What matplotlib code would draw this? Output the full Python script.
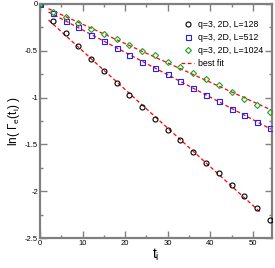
import numpy as np
import matplotlib
matplotlib.use("Agg")
import matplotlib.pyplot as plt
from matplotlib.ticker import MultipleLocator, FuncFormatter

plt.rcParams['font.family'] = ['Liberation Sans', 'DejaVu Sans']
plt.rcParams['mathtext.fontset'] = 'custom'
plt.rcParams['mathtext.rm'] = 'Liberation Sans'
plt.rcParams['mathtext.it'] = 'Liberation Sans'

# times t_i (same for all three sizes)
t = [0, 3, 6, 9, 12, 15, 18, 21, 24, 27, 30, 33, 36, 39, 42, 45, 48, 51, 54]

# ln(Gamma_e(t_i))
gamma_L128 = [0.0, -0.179, -0.314, -0.45, -0.59, -0.714, -0.845, -0.975, -1.10, -1.224,
              -1.345, -1.458, -1.58, -1.70, -1.81, -1.93, -2.05, -2.18, -2.31]
gamma_L512 = [0.0, -0.10, -0.179, -0.25, -0.33, -0.40, -0.474, -0.546, -0.618, -0.689,
              -0.753, -0.824, -0.90, -0.967, -1.04, -1.117, -1.188, -1.26, -1.33]
gamma_L1024 = [0.0, -0.089, -0.136, -0.207, -0.268, -0.321, -0.378, -0.439, -0.50, -0.55,
               -0.618, -0.671, -0.742, -0.806, -0.867, -0.939, -1.01, -1.08, -1.153]

labels = ["q=3, 2D, L=128", "q=3, 2D, L=512", "q=3, 2D, L=1024"]

# which points enter each fit, and the t-range the fitted line is drawn over
fit_idx_128 = (1, 18)
fit_idx_big = (1, 19)
fit_range_128 = (2, 52)
fit_range_big = (2, 54.5)

spine_col = "#808080"


def fitLine(tv, yv, idx, rng):
    lo, hi = idx
    p = np.polyfit(np.array(tv[lo:hi]), np.array(yv[lo:hi]), 1)
    xs = np.array(rng)
    return xs, np.polyval(p, xs)


def main():
    fig = plt.figure(figsize=(2.75, 2.68), dpi=100)
    ax = fig.add_axes([40 / 275, 30 / 268, 232 / 275, 234 / 268])

    ms = 3.6
    mew = 0.8
    ax.plot(t, gamma_L128, 'o', ms=ms, mfc='none', mec='black', mew=mew, label=labels[0], zorder=3)
    ax.plot(t, gamma_L512, 's', ms=ms, mfc='none', mec='#1f1fff', mew=mew, label=labels[1], zorder=3)
    ax.plot(t, gamma_L1024, 'D', ms=ms * 0.85, mfc='none', mec='#22a022', mew=mew, label=labels[2], zorder=3)

    dash = (0, (3.0, 2.0))
    x1, y1 = fitLine(t, gamma_L128, fit_idx_128, fit_range_128)
    ax.plot(x1, y1, color='red', lw=0.9, ls=dash, label="best fit", zorder=2)
    for yv in (gamma_L512, gamma_L1024):
        xs, ys = fitLine(t, yv, fit_idx_big, fit_range_big)
        ax.plot(xs, ys, color='red', lw=0.9, ls=dash, zorder=2)

    ax.set_xlim(0, 54.5)
    ax.set_ylim(-2.5, 0)
    ax.xaxis.set_major_locator(MultipleLocator(10))
    ax.xaxis.set_minor_locator(MultipleLocator(5))
    ax.yaxis.set_major_locator(MultipleLocator(0.5))
    ax.yaxis.set_minor_locator(MultipleLocator(0.25))
    ax.yaxis.set_major_formatter(FuncFormatter(lambda v, p: f"{v:g}"))

    for s in ax.spines.values():
        s.set_color(spine_col)
        s.set_linewidth(1.6)
    ax.tick_params(which='both', direction='in', top=True, right=True,
                   color=spine_col, labelsize=5.5, pad=1.5)
    ax.tick_params(which='major', length=5, width=1.0)
    ax.tick_params(which='minor', length=2.5, width=1.0)

    ax.set_xlabel(r"$\mathrm{t}_\mathrm{i}$", fontsize=10, labelpad=0)
    ax.set_ylabel(r"ln( $\Gamma_\mathrm{e}(\mathrm{t}_\mathrm{i})$ )", fontsize=8.5, labelpad=2)

    ax.legend(loc='upper right', frameon=False, fontsize=6.3, handlelength=1.4,
              handletextpad=0.5, labelspacing=0.45, borderaxespad=0.6,
              bbox_to_anchor=(1.0, 0.97))

    fig.savefig("out.png", dpi=100)
    plt.close(fig)


if __name__ == '__main__':
    main()
